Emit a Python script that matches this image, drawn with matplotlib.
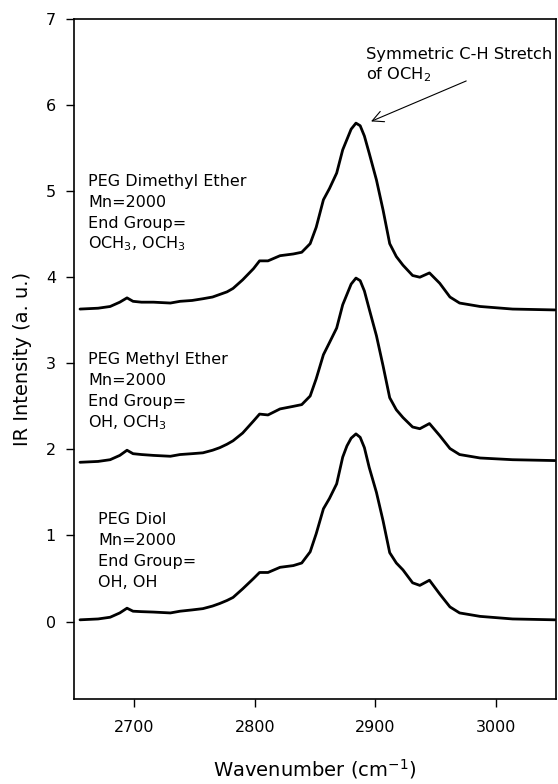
import matplotlib
matplotlib.use("Agg")
import matplotlib.pyplot as plt

plt.rcParams['font.family'] = ['DejaVu Sans']
plt.rcParams['mathtext.fontset'] = 'dejavusans'

# Wavenumber grid (cm^-1) at which the spectra were read
wavenumber = [2655, 2670, 2680, 2688, 2694, 2699, 2706, 2716, 2730, 2738,
              2748, 2757, 2765, 2771, 2777, 2782, 2790, 2799, 2804, 2811,
              2821, 2832, 2839, 2846, 2851, 2857, 2862, 2868, 2873, 2876.5,
              2880, 2884, 2887.5, 2891, 2895, 2901, 2906.5, 2912, 2917.5, 2923,
              2931, 2937, 2945, 2953.5, 2962, 2970, 2987, 3014, 3049]

# PEG Dimethyl Ether (top trace)
int_dme = [3.63, 3.64, 3.66, 3.71, 3.76, 3.72, 3.71, 3.71, 3.70, 3.72,
           3.73, 3.75, 3.77, 3.80, 3.83, 3.87, 3.97, 4.10, 4.19, 4.19,
           4.25, 4.27, 4.29, 4.39, 4.58, 4.90, 5.03, 5.21, 5.48, 5.60,
           5.72, 5.79, 5.76, 5.64, 5.44, 5.13, 4.78, 4.39, 4.24, 4.14,
           4.02, 4.00, 4.05, 3.93, 3.77, 3.70, 3.66, 3.63, 3.62]

# PEG Methyl Ether (middle trace)
int_me = [1.85, 1.86, 1.88, 1.93, 1.99, 1.95, 1.94, 1.93, 1.92, 1.94,
          1.95, 1.96, 1.99, 2.02, 2.06, 2.10, 2.19, 2.33, 2.41, 2.40,
          2.47, 2.50, 2.52, 2.62, 2.82, 3.10, 3.24, 3.41, 3.68, 3.80,
          3.92, 3.99, 3.96, 3.84, 3.63, 3.32, 2.97, 2.60, 2.46, 2.37,
          2.26, 2.24, 2.30, 2.16, 2.01, 1.94, 1.90, 1.88, 1.87]

# PEG Diol (bottom trace)
int_diol = [0.02, 0.03, 0.05, 0.10, 0.155, 0.12, 0.115, 0.11, 0.10, 0.12,
            0.135, 0.15, 0.18, 0.21, 0.245, 0.28, 0.38, 0.50, 0.57, 0.57,
            0.63, 0.65, 0.68, 0.81, 1.02, 1.31, 1.43, 1.60, 1.91, 2.04,
            2.13, 2.18, 2.14, 2.02, 1.79, 1.50, 1.17, 0.80, 0.68, 0.60,
            0.45, 0.42, 0.48, 0.32, 0.17, 0.10, 0.06, 0.03, 0.02]

labels_dme = ["PEG Dimethyl Ether", "Mn=2000", "End Group=", "OCH$_3$, OCH$_3$"]
labels_me = ["PEG Methyl Ether", "Mn=2000", "End Group=", "OH, OCH$_3$"]
labels_diol = ["PEG Diol", "Mn=2000", "End Group=", "OH, OH"]

xticks = [2700, 2800, 2900, 3000]
yticks = [0, 1, 2, 3, 4, 5, 6, 7]

fig = plt.figure(figsize=(5.58, 7.84), dpi=100)
ax = fig.add_axes([0.1326, 0.1084, 0.8638, 0.8674])

for y in (int_diol, int_me, int_dme):
    ax.plot(wavenumber, y, color='black', lw=2.0, solid_joinstyle='round', solid_capstyle='round')

ax.set_xlim(2650, 3050)
ax.set_ylim(-0.9, 7)
ax.set_xticks(xticks)
ax.set_yticks(yticks)
ax.tick_params(direction='out', length=6, width=1, labelsize=11.5, colors='black')
ax.tick_params(axis='x', pad=9)
ax.tick_params(axis='y', pad=7)
for s in ax.spines.values():
    s.set_linewidth(1.2)

ax.set_xlabel("Wavenumber (cm$^{-1}$)", fontsize=14, labelpad=16)
ax.set_ylabel("IR Intensity (a. u.)", fontsize=14, labelpad=10)

def block(x, ybase, lines, dy=0.243):
    for i, t in enumerate(lines):
        ax.text(x, ybase - i * dy, t, fontsize=11.5, va='baseline', ha='left')

block(2662, 5.06, labels_dme)
block(2662, 2.99, labels_me)
block(2670, 1.13, labels_diol)

ax.text(2892.5, 6.53, "Symmetric C-H Stretch", fontsize=11.7, va='baseline', ha='left')
ax.text(2892.5, 6.30, "of OCH$_2$", fontsize=11.7, va='baseline', ha='left')
ax.annotate("", xy=(2896.5, 5.81), xytext=(2975.5, 6.28),
            arrowprops=dict(arrowstyle='->', color='black', lw=0.8, mutation_scale=20,
                            shrinkA=0, shrinkB=0))

fig.savefig("out.png", dpi=100)
